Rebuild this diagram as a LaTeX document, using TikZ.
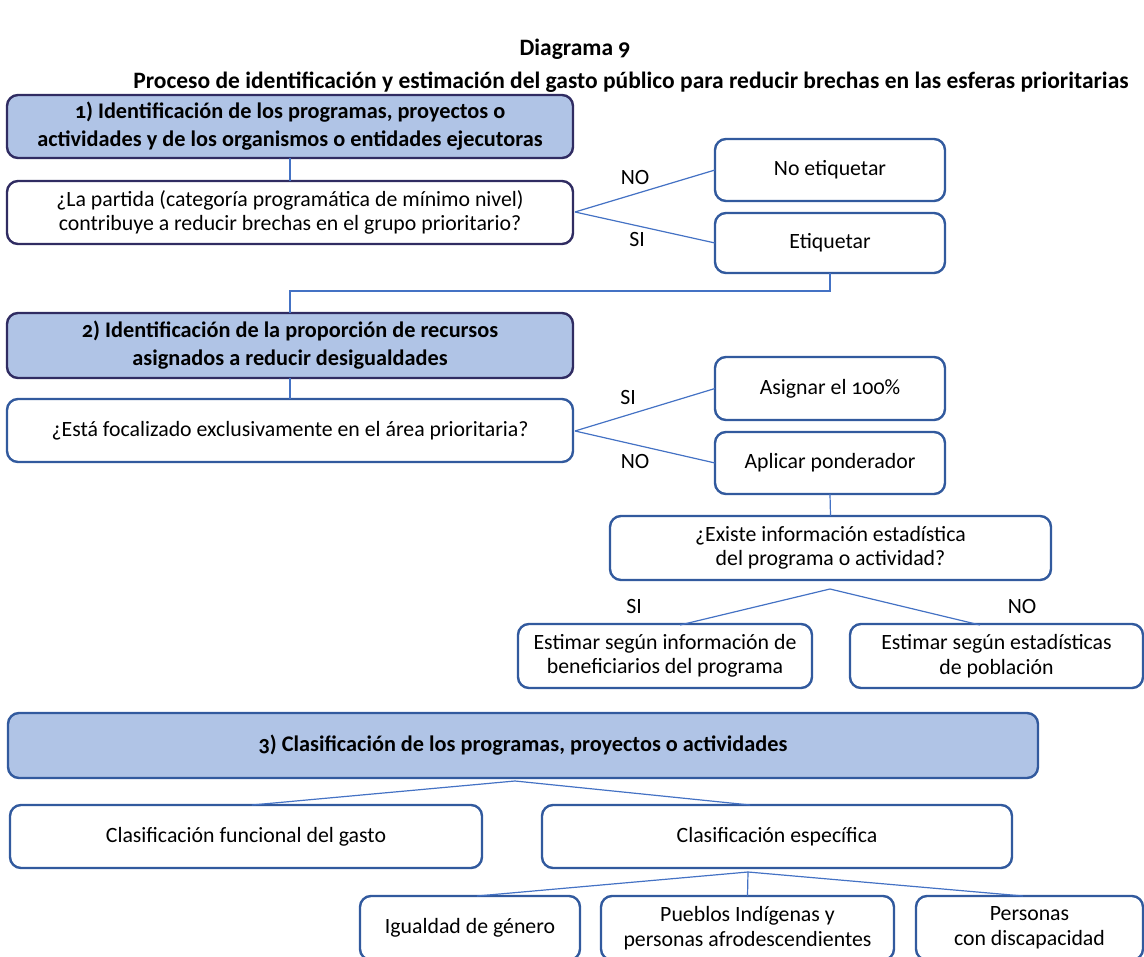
\documentclass[tikz,border=0pt]{standalone}
\usepackage{fontspec}
\setmainfont{Carlito}[Numbers=OldStyle]
\begin{document}
\begin{tikzpicture}[x=1pt,y=-1pt,
  every node/.style={inner sep=0pt, outer sep=0pt},
  body/.style={font=\fontsize{21.8}{24.5}\selectfont, align=center},
  head/.style={font=\bfseries\fontsize{22.3}{28}\selectfont, align=center},
  boxbase/.style={draw, rounded corners=11pt, line width=2.4pt},
  hdr/.style={boxbase, head, draw=navy, fill=bluefill},
  hdrb/.style={boxbase, head, draw=boxblue, fill=bluefill},
  qnavy/.style={boxbase, body, draw=navy, fill=white},
  wbox/.style={boxbase, body, draw=boxblue, fill=white},
  conn/.style={draw=linkblue, line width=1.2pt},
  lbl/.style={font=\fontsize{21.8}{24}\selectfont},
  ttl/.style={font=\bfseries\fontsize{23.5}{26}\selectfont}
]
\definecolor{bluefill}{RGB}{176,196,230}
\definecolor{navy}{RGB}{48,44,98}
\definecolor{boxblue}{RGB}{50,90,158}
\definecolor{linkblue}{RGB}{68,114,196}
\useasboundingbox (0,0) rectangle (1144,957);
\begin{scope}
\clip (0,0) rectangle (1144,957);
% title
\node[ttl] (t1) at (575,49) {Diagrama 9};
\node[ttl] (t2) at (631,82) {Proceso de identificación y estimación del gasto público para reducir brechas en las esferas prioritarias};
% stage 1
\node[hdr, minimum width=566pt, minimum height=63pt] (b1) at (290,126.5) {1) Identificación de los programas, proyectos o\\actividades y de los organismos o entidades ejecutoras};
\node[qnavy, minimum width=566pt, minimum height=63pt] (q1) at (290,212.5) {¿La partida (categoría programática de mínimo nivel)\\contribuye a reducir brechas en el grupo prioritario?};
\node[wbox, minimum width=230pt, minimum height=62pt] (noet) at (830,170) {No etiquetar};
\node[wbox, minimum width=230pt, minimum height=60pt] (et) at (830,243) {Etiquetar};
% stage 2
\node[hdr, minimum width=566pt, minimum height=65pt] (b2) at (290,345.5) {2) Identificación de la proporción de recursos\\asignados a reducir desigualdades};
\node[wbox, minimum width=566pt, minimum height=63pt] (q2) at (290,430.5) {¿Está focalizado exclusivamente en el área prioritaria?};
\node[wbox, minimum width=230pt, minimum height=63pt] (asig) at (830,388.5) {Asignar el 100\%};
\node[wbox, minimum width=230pt, minimum height=62pt] (apl) at (830,463) {Aplicar ponderador};
\node[wbox, minimum width=441pt, minimum height=64pt] (exi) at (830.5,548) {¿Existe información estadística\\del programa o actividad?};
\node[wbox, minimum width=294pt, minimum height=64pt] (est1) at (665,656) {Estimar según información de\\beneficiarios del programa};
\node[wbox, minimum width=293pt, minimum height=64pt] (est2) at (996.5,656) {Estimar según estadísticas\\de población};
% stage 3
\node[hdrb, minimum width=1030pt, minimum height=65pt] (b3) at (523,745.5) {3) Clasificación de los programas, proyectos o actividades};
\node[wbox, minimum width=472pt, minimum height=63pt] (cf) at (246,836.5) {Clasificación funcional del gasto};
\node[wbox, minimum width=470pt, minimum height=63pt] (ce) at (777,836.5) {Clasificación específica};
\node[wbox, minimum width=220pt, minimum height=64pt] (ig) at (470,928) {Igualdad de género};
\node[wbox, minimum width=293pt, minimum height=64pt] (pue) at (747.5,928) {Pueblos Indígenas y\\personas afrodescendientes};
\node[wbox, minimum width=227pt, minimum height=64pt] (per) at (1029.5,928) {Personas\\con discapacidad};
% coordinates
\coordinate (d1) at (575,212);
\coordinate (d2) at (575,431);
\coordinate (d3) at (830,589);
\coordinate (d4) at (515,781);
\coordinate (d5) at (748,872);
\coordinate (e1) at (680,625);
\coordinate (e2) at (980,625);
\coordinate (f1) at (252,805);
\coordinate (f2) at (750,805);
\coordinate (g1) at (477,896);
\coordinate (g3) at (1023,896);
% connectors
\draw[conn] (b1.south) -- (q1.north);
\draw[conn] (d1) -- (noet.west);
\draw[conn] (d1) -- (et.west);
\draw[conn] (et.south) -- ++(0,18) -| (b2.north);
\draw[conn] (b2.south) -- (q2.north);
\draw[conn] (d2) -- (asig.west);
\draw[conn] (d2) -- (apl.west);
\draw[conn] (apl.south) -- (exi.north);
\draw[conn] (d3) -- (e1);
\draw[conn] (d3) -- (e2);
\draw[conn] (d4) -- (f1);
\draw[conn] (d4) -- (f2);
\draw[conn] (d5) -- (g1);
\draw[conn] (d5) -- (pue.north);
\draw[conn] (d5) -- (g3);
% labels
\node[lbl] (l1) at (635,178) {NO};
\node[lbl] (l2) at (637,240) {SI};
\node[lbl] (l3) at (628,398) {SI};
\node[lbl] (l4) at (635,462) {NO};
\node[lbl] (l5) at (634,607) {SI};
\node[lbl] (l6) at (1022,607) {NO};
\end{scope}
\end{tikzpicture}
\end{document}
